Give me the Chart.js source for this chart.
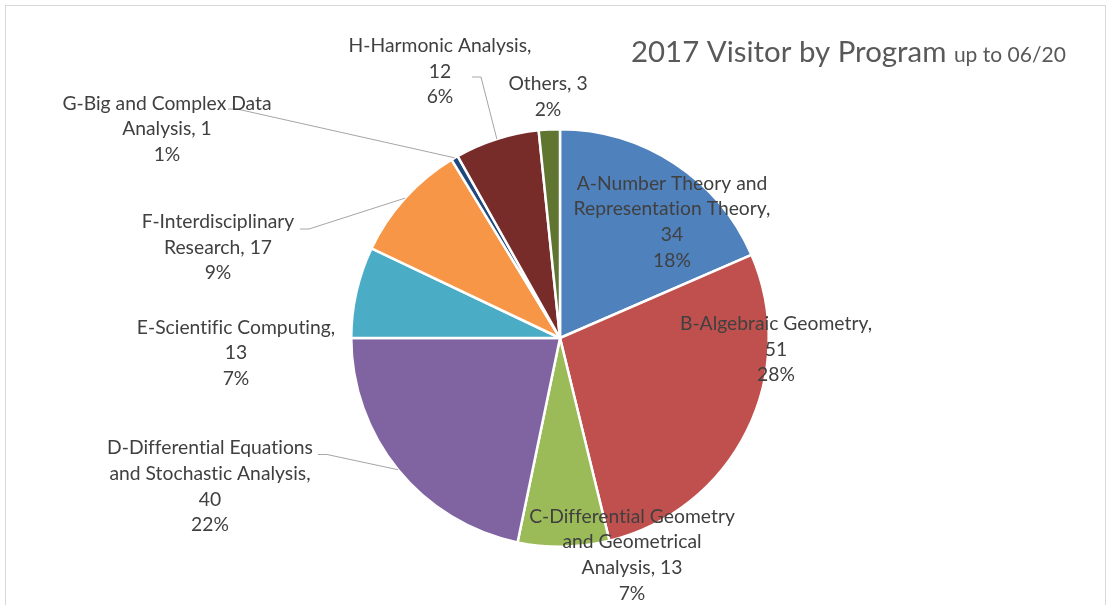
<!DOCTYPE html>
<html>
<head>
<meta charset="utf-8">
<title>2017 Visitor by Program</title>
<script src="https://cdn.jsdelivr.net/npm/chart.js@4/dist/chart.umd.min.js"></script>
<style>
  html, body { margin: 0; padding: 0; background: #ffffff; }
  #wrap { width: 1115px; height: 605px; }
</style>
</head>
<body>
<div id="wrap"><canvas id="chart" width="1115" height="605"></canvas></div>
<script>
// Programs and visitor counts, clockwise from 12 o'clock
const categories = [
  'A-Number Theory and Representation Theory',
  'B-Algebraic Geometry',
  'C-Differential Geometry and Geometrical Analysis',
  'D-Differential Equations and Stochastic Analysis',
  'E-Scientific Computing',
  'F-Interdisciplinary Research',
  'G-Big and Complex Data Analysis',
  'H-Harmonic Analysis',
  'Others'
];
const visitors = [34, 51, 13, 40, 13, 17, 1, 12, 3];
const percentLabels = ['18%', '28%', '7%', '22%', '7%', '9%', '1%', '6%', '2%'];
const sliceColors = ['#4F81BD', '#C0504D', '#9BBB59', '#8064A2', '#4BACC6', '#F79646', '#1F497D', '#772C2A', '#5F7530'];

const titleMain = '2017 Visitor by Program';
const titleSub = 'up to 06/20';

// Label placement: offset of each label block centre from the pie centre,
// and how many words of "name, value" go on each line.
const labelLayout = [
  { dx: 112,  dy: -116,   words: [3, 2, 1] },
  { dx: 216,  dy: 11.5,   words: [2, 1] },
  { dx: 72,   dy: 217,    words: [2, 2, 2] },
  { dx: -350, dy: 148.5,  words: [2, 3, 1] },
  { dx: -324, dy: 15,     words: [2, 1] },
  { dx: -342, dy: -90.5,  words: [1, 2] },
  { dx: -393, dy: -209,   words: [4, 2] },
  { dx: -120, dy: -266.5, words: [2, 1] },
  { dx: -12,  dy: -241.5, words: [2] }
];
// Leader line start, relative to the label block centre (null = no leader)
const leaderStart = [null, null, null, [108, -32], null, [82, -18.5], [61, -20], [32, 5.5], null];

const LABEL_FONT = '19.3px Lato';
const LINE_H = 25.7;
const TEXT_COLOR = '#404040';

function splitLines(text, counts) {
  const words = text.split(' ');
  const lines = [];
  let p = 0;
  counts.forEach(n => { lines.push(words.slice(p, p + n).join(' ')); p += n; });
  return lines;
}

const overlayPlugin = {
  id: 'overlay',
  beforeDraw(chart) {
    const ctx = chart.ctx;
    ctx.save();
    ctx.fillStyle = '#ffffff';
    ctx.fillRect(0, 0, chart.width, chart.height);
    // light frame round the chart
    ctx.strokeStyle = '#D9D9D9';
    ctx.lineWidth = 1;
    ctx.strokeRect(5.5, 5.5, 1100, 640);
    ctx.restore();
  },
  afterDatasetsDraw(chart) {
    const ctx = chart.ctx;
    const meta = chart.getDatasetMeta(0);
    ctx.save();
    ctx.letterSpacing = '0.01px';

    // title with a smaller suffix
    ctx.fillStyle = '#595959';
    ctx.textBaseline = 'alphabetic';
    ctx.textAlign = 'left';
    ctx.font = '29.4px Lato';
    const tx = 631, ty = 62;
    ctx.fillText(titleMain, tx, ty);
    const w1 = ctx.measureText(titleMain + ' ').width;
    ctx.font = '21px Lato';
    ctx.fillText(titleSub, tx + w1, ty);

    ctx.font = LABEL_FONT;
    meta.data.forEach((arc, i) => {
      const lay = labelLayout[i];
      const cx = arc.x + lay.dx;
      const cy = arc.y + lay.dy;
      const lines = splitLines(categories[i] + ', ' + visitors[i], lay.words);
      lines.push(percentLabels[i]);
      const top = cy - (lines.length - 1) * LINE_H / 2;

      // leader line to the middle of the slice edge
      const ls = leaderStart[i];
      if (ls) {
        const mid = (arc.startAngle + arc.endAngle) / 2;
        const ex = arc.x + Math.cos(mid) * arc.outerRadius;
        const ey = arc.y + Math.sin(mid) * arc.outerRadius;
        const sx = cx + ls[0], sy = cy + ls[1];
        ctx.beginPath();
        ctx.strokeStyle = '#A6A6A6';
        ctx.lineWidth = 1;
        ctx.moveTo(sx, sy);
        ctx.lineTo(sx + 9, sy);
        ctx.lineTo(ex, ey);
        ctx.stroke();
      }

      ctx.fillStyle = TEXT_COLOR;
      ctx.textAlign = 'center';
      ctx.textBaseline = 'middle';
      lines.forEach((ln, k) => ctx.fillText(ln, cx, top + k * LINE_H));
    });
    ctx.restore();
  }
};

new Chart(document.getElementById('chart'), {
  type: 'pie',
  data: {
    labels: categories,
    datasets: [{
      data: visitors,
      backgroundColor: sliceColors,
      borderColor: '#ffffff',
      borderWidth: 2.5
    }]
  },
  options: {
    responsive: false,
    devicePixelRatio: 1,
    animation: false,
    layout: { padding: { left: 350, right: 345, top: 128, bottom: 57 } },
    plugins: {
      legend: { display: false },
      title: { display: false },
      tooltip: { enabled: false }
    }
  },
  plugins: [overlayPlugin]
});
</script>
</body>
</html>
